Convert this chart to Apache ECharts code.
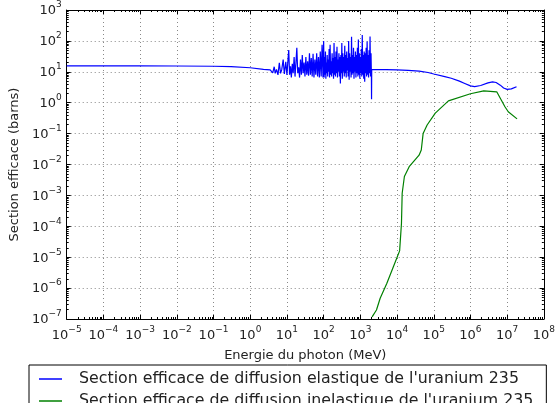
<!DOCTYPE html>
<html><head><meta charset="utf-8">
<script src="https://cdn.jsdelivr.net/npm/echarts@6/dist/echarts.min.js"></script>
<style>html,body{margin:0;padding:0;background:#fff}#c{width:558px;height:403px}</style>
</head><body><div id="c"></div>
<script>
// Elastic scattering (blue)
const elasticE = [1e-5,1e-4,1e-3,1e-2,1e-1,0.3,1,2.3,3.5,
 3.9,4.1,4.5,4.8,5.2,5.7,6.2,6.7,7.2,7.9,8.5,9.3,
 10,10.6,11.2,11.8,12.5,13.2,14,14.8,15.7,16.6,17.6,18.6,19.7,20.9,22.1,23.4,24.8,26.2,27.7,29.3,31,32.8,34.7,36.7,38.8,41.1,43.5,46,48.7,51.5,54.5,57.7,61,64.6,68.3,72.3,76.5,81,85.7,90.7,96,
 100,103,106,109,112,115,118,121,125,129,133,137,141,145,150,155,160,165,170,175,180,186,192,198,204,210,217,224,231,238,245,253,261,269,277,286,295,304,313,323,333,343,354,365,376,388,400,412,425,438,452,466,480,495,510,526,542,559,576,594,612,631,651,671,692,713,735,758,782,806,831,857,883,911,939,968,998,1029,1061,1094,1128,1163,1199,1236,1274,1314,1354,1396,1440,1484,1530,1578,1627,1677,1729,1783,1838,1895,1954,2000,2020,2040,
 2100,3000,5000,1e4,2e4,4e4,7e4,1e5,2e5,3e5,5e5,7e5,1e6,1.3e6,1.9e6,3e6,4e6,5e6,6.5e6,8e6,1e7,1.3e7,1.8e7];
const elasticSigma = [15.5,15.5,15.5,15.4,15.1,14.8,13.5,12,11.5,
 12.9,9.3,14.6,8.9,12,7.9,19.7,8.9,11.5,25,8.5,21,
 7.9,22,51,8,15,6.6,18,9,30,7,20,60,9,14,6.5,25,8,35,9,20,7,30,8,22,7.5,40,8,28,7,38,6.5,25,8,40,7,30,6.5,45,7,75,6.5,
 100,6.5,30,8,45,6,20,9,35,7,25,10,55,6.5,75,8,22,7,40,9,28,6,85,8,30,7,45,9,65,6.5,25,10,40,7,30,4.2,35,9,85,6,40,10,30,7,70,9,35,6.5,45,11,28,7,100,5.5,40,10,30,6.5,135,8,35,9,60,6,30,10,45,6.5,35,9,60,7,110,8,40,6,30,9,55,7,155,8,35,6,45,4.8,40,9,60,7,95,8,35,6.5,50,9,140,7,40,8,1.3,12,
 12,11.8,11.7,11.5,11.2,10.5,9.5,8.5,7,6.2,5,4.2,3.5,3.3,3.6,4.4,4.7,4.5,3.7,3.0,2.7,2.8,3.3];
// Inelastic scattering (green)
const inelasticE = [2090,2750,3470,5250,7940,11750,13200,13800,15850,21400,39800,45700,51300,66000,110000,251000,1e6,2.3e6,5.2e6,8.7e6,1.07e7,1.86e7];
const inelasticSigma = [1.17e-7,1.95e-7,4.7e-7,1.4e-6,4.9e-6,1.6e-5,1.26e-4,1.17e-3,4.1e-3,8.5e-3,2.0e-2,2.95e-2,0.10,0.19,0.46,1.15,1.95,2.4,2.25,0.74,0.51,0.3];
const xExponents = [-5,-4,-3,-2,-1,0,1,2,3,4,5,6,7,8];
const yExponents = [-7,-6,-5,-4,-3,-2,-1,0,1,2,3];

const names = ["Section efficace de diffusion elastique de l'uranium 235",
               "Section efficace de diffusion inelastique de l'uranium 235"];
const F = 'DejaVu Sans';
function minorVals(lo, hi){ const a=[]; for(let d=lo; d<hi; d++) for(let k=2;k<10;k++) a.push(k*Math.pow(10,d)); return a; }
const rich = { b:{fontSize:13, fontFamily:F, color:'#222', verticalAlign:'bottom', lineHeight:15},
               s:{fontSize:9, fontFamily:F, color:'#222', verticalAlign:'bottom', lineHeight:10, padding:[0,0,8,0]} };
function fmt(v){ const e = Math.round(Math.log10(v)); return '{b|10}{s|' + String(e).replace('-', '\u2212') + '}'; }
const xmin = Math.pow(10, xExponents[0]), xmax = Math.pow(10, xExponents[xExponents.length-1]);
const ymin = Math.pow(10, yExponents[0]), ymax = Math.pow(10, yExponents[yExponents.length-1]);
const grid = {left:54, right:13, top:10, bottom:84};
function baseAxis(pos, isX, major){
  const o = { type:'log', logBase:10, min: isX?xmin:ymin, max: isX?xmax:ymax, position:pos,
    axisLine:{show:major, onZero:false, lineStyle:{color:'#000', width:1}},
    axisTick:{show:true, inside:true, length: major?4:2, lineStyle:{color:'#000', width:1}},
    axisLabel:{show:false}, splitLine:{show:false} };
  if (major) o.interval = 1; else o.axisTick.customValues = isX ? minorVals(-5,8) : minorVals(-7,3);
  return o;
}
const xA0 = baseAxis('bottom', true, true);
xA0.axisLabel = {show:true, formatter:fmt, rich:rich, margin:8};
xA0.splitLine = {show:true, lineStyle:{color:'#888', type:[1,3], width:1}};
xA0.name = 'Energie du photon (MeV)'; xA0.nameLocation='middle'; xA0.nameGap=30;
xA0.nameTextStyle = {fontFamily:F, fontSize:13, color:'#222'};
const yA0 = baseAxis('left', false, true);
yA0.axisLabel = {show:true, formatter:fmt, rich:rich, margin:5};
yA0.splitLine = {show:true, lineStyle:{color:'#888', type:[1,3], width:1}};
yA0.name = 'Section efficace (barns)'; yA0.nameLocation='middle'; yA0.nameGap=42;
yA0.nameTextStyle = {fontFamily:F, fontSize:13, color:'#222'};

const chart = echarts.init(document.getElementById('c'), null, {renderer:'canvas'});
chart.setOption({
  animation:false,
  grid: grid,
  xAxis:[xA0, baseAxis('bottom',true,false), baseAxis('top',true,true), baseAxis('top',true,false)],
  yAxis:[yA0, baseAxis('left',false,false), baseAxis('right',false,true), baseAxis('right',false,false)],
  legend:{ orient:'vertical', left:29, top:365, height:80, icon:'rect', itemWidth:23, itemHeight:1.5, itemGap:6,
    padding:[6,13,6,10], borderColor:'#000', borderWidth:1, backgroundColor:'#fff',
    textStyle:{fontFamily:F, fontSize:15.8, color:'#222', padding:[0,0,0,12]}, data:names },
  series:[
    {name:names[0], type:'line', showSymbol:false, symbol:'none', color:'#0000ff',
     lineStyle:{width:1.2, color:'#0000ff'}, data: elasticE.map((e,i)=>[e, elasticSigma[i]])},
    {name:names[1], type:'line', showSymbol:false, symbol:'none', color:'#008000',
     lineStyle:{width:1.2, color:'#008000'}, data: inelasticE.map((e,i)=>[e, inelasticSigma[i]])}
  ]
});
</script></body></html>
